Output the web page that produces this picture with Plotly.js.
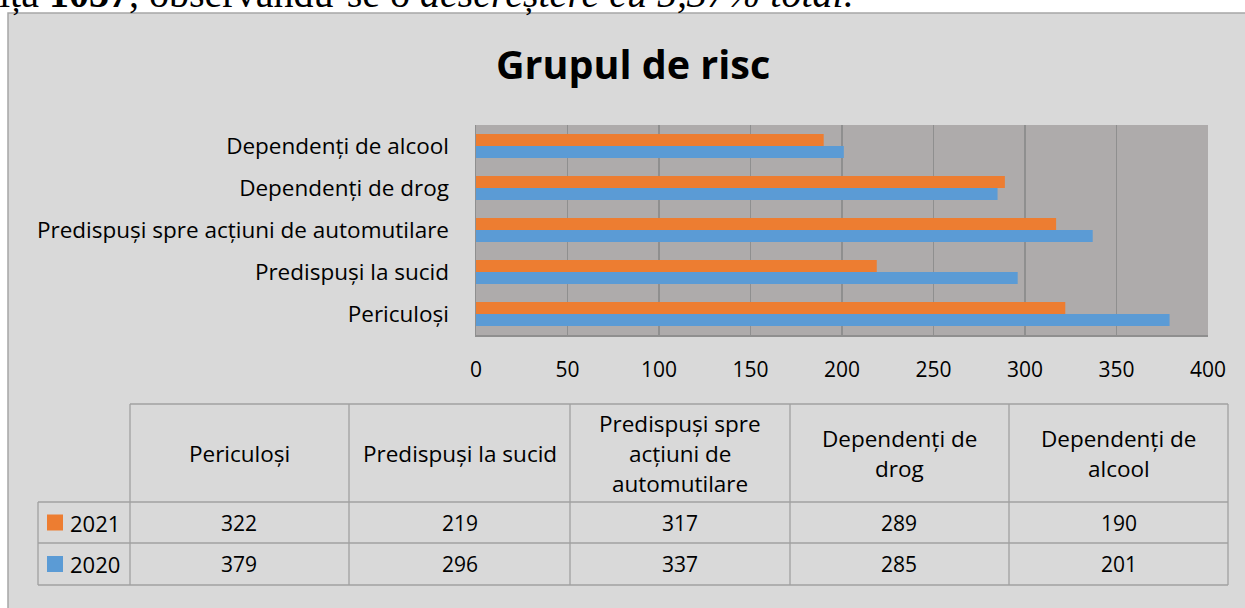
<!DOCTYPE html>
<html>
<head>
<meta charset="utf-8">
<script src="https://cdn.plot.ly/plotly-3.0.1.min.js"></script>
<style>html,body{margin:0;padding:0;background:#fff;}#chart{width:1245px;height:608px;}</style>
</head>
<body>
<div id="chart"></div>
<script>
// ---- data ----
const categories = ["Periculoși", "Predispuși la sucid", "Predispuși spre acțiuni de automutilare", "Dependenți de drog", "Dependenți de alcool"];
const tableHeaderLabels = ["Periculoși", "Predispuși la sucid", "Predispuși spre<br>acțiuni de<br>automutilare", "Dependenți de<br>drog", "Dependenți de<br>alcool"];
const seriesNames = ["2021", "2020"];
const values2021 = [322, 219, 317, 289, 190];
const values2020 = [379, 296, 337, 285, 201];
const xTicks = [0, 50, 100, 150, 200, 250, 300, 350, 400];
const chartTitle = "Grupul de risc";
const topText = "ița <b>1037</b>, observându-se o <i>descreștere cu 5,37% total.</i>";

// ---- layout helpers ----
const W = 1245, H = 608;
const px = x => x / W;
const py = y => 1 - y / H;
const ORANGE = "#ed7d31", BLUE = "#5b9bd5";
const FONT = "'Open Sans', Lato, sans-serif";
const TXT = "#000000";
const FS = 22.5;   // word labels
const NFS = 21;    // numbers

const traces = [
  {type: "bar", orientation: "h", name: seriesNames[1], x: values2020, y: categories,
   marker: {color: BLUE, line: {width: 0}}, hoverinfo: "none", showlegend: false},
  {type: "bar", orientation: "h", name: seriesNames[0], x: values2021, y: categories,
   marker: {color: ORANGE, line: {width: 0}}, hoverinfo: "none", showlegend: false}
];

const shapes = [];
const annotations = [];

// chart frame
shapes.push({type: "rect", xref: "paper", yref: "paper", x0: px(8), x1: 1.02, y0: -0.02, y1: py(13),
  fillcolor: "#d9d9d9", line: {color: "#a6a6a6", width: 1.5}, layer: "below"});
// plot area
shapes.push({type: "rect", xref: "x domain", yref: "y domain", x0: 0, x1: 1, y0: 0, y1: 1,
  fillcolor: "#aeabab", line: {width: 0}, layer: "below"});

// top document text
annotations.push({xref: "paper", yref: "paper", x: px(-3), y: py(17.5), xanchor: "left", yanchor: "bottom",
  text: topText, showarrow: false, font: {family: "'Liberation Serif', 'Times New Roman', serif", size: 40, color: TXT}});

// title
annotations.push({xref: "paper", yref: "paper", x: px(633), y: py(64), xanchor: "center", yanchor: "middle",
  text: "<b>" + chartTitle + "</b>", showarrow: false, font: {family: FONT, size: 39.5, color: TXT}});

// data table
const colEdges = [130, 349, 570, 790, 1009, 1228];
const legendLeft = 38;
const yHeadTop = 404, yHeadBot = 502, yRow1Bot = 543, yRow2Bot = 585;
const LC = "#a0a0a0", LW = 1.3;
function hline(y, x0, x1) { shapes.push({type: "line", xref: "paper", yref: "paper", x0: px(x0), x1: px(x1), y0: py(y), y1: py(y), line: {color: LC, width: LW}}); }
function vline(x, y0, y1) { shapes.push({type: "line", xref: "paper", yref: "paper", x0: px(x), x1: px(x), y0: py(y0), y1: py(y1), line: {color: LC, width: LW}}); }
hline(yHeadTop, colEdges[0], colEdges[colEdges.length - 1]);
hline(yHeadBot, legendLeft, colEdges[colEdges.length - 1]);
hline(yRow1Bot, legendLeft, colEdges[colEdges.length - 1]);
hline(yRow2Bot, legendLeft, colEdges[colEdges.length - 1]);
vline(legendLeft, yHeadBot, yRow2Bot);
colEdges.forEach(x => vline(x, yHeadTop, yRow2Bot));

const LINE_GAP = 30;
const headMid = (yHeadTop + yHeadBot) / 2;
const row1Mid = (yHeadBot + yRow1Bot) / 2, row2Mid = (yRow1Bot + yRow2Bot) / 2;
tableHeaderLabels.forEach((lab, i) => {
  const cx = (colEdges[i] + colEdges[i + 1]) / 2;
  const lines = lab.split("<br>");
  lines.forEach((ln, j) => {
    const cy = headMid + (j - (lines.length - 1) / 2) * LINE_GAP;
    annotations.push({xref: "paper", yref: "paper", x: px(cx), y: py(cy), xanchor: "center", yanchor: "middle",
      text: ln, showarrow: false, font: {family: FONT, size: FS, color: TXT}});
  });
  annotations.push({xref: "paper", yref: "paper", x: px(cx), y: py(row1Mid), xanchor: "center", yanchor: "middle",
    text: String(values2021[i]), showarrow: false, font: {family: FONT, size: NFS, color: TXT}});
  annotations.push({xref: "paper", yref: "paper", x: px(cx), y: py(row2Mid), xanchor: "center", yanchor: "middle",
    text: String(values2020[i]), showarrow: false, font: {family: FONT, size: NFS, color: TXT}});
});
// legend keys in table
[[seriesNames[0], ORANGE, row1Mid], [seriesNames[1], BLUE, row2Mid]].forEach(([nm, col, cy]) => {
  shapes.push({type: "rect", xref: "paper", yref: "paper", x0: px(47), x1: px(63), y0: py(cy + 8), y1: py(cy - 8),
    fillcolor: col, line: {width: 0}});
  annotations.push({xref: "paper", yref: "paper", x: px(68), y: py(cy), xanchor: "left", yanchor: "middle",
    text: nm, showarrow: false, font: {family: FONT, size: NFS + 1, color: TXT}});
});

const layout = {
  width: W, height: H,
  margin: {l: 0, r: 0, t: 0, b: 0, pad: 0},
  paper_bgcolor: "#ffffff",
  plot_bgcolor: "rgba(0,0,0,0)",
  showlegend: false,
  barmode: "group",
  bargap: 0.4286,
  bargroupgap: 0,
  xaxis: {
    domain: [px(476), px(1208)], range: [0, 400], tickmode: "array", tickvals: xTicks, ticktext: xTicks.map(String),
    showgrid: true, gridcolor: "#8f8f8f", gridwidth: 1.5, zeroline: false,
    showline: true, linecolor: "#8f8f8f", linewidth: 1.5, ticks: "", ticklabelstandoff: 15,
    tickfont: {family: FONT, size: NFS, color: TXT}, fixedrange: true
  },
  yaxis: {
    domain: [py(335), py(125)], type: "category", categoryorder: "array", categoryarray: categories,
    showgrid: false, zeroline: false, showline: true, linecolor: "#8f8f8f", linewidth: 1.5,
    ticks: "", ticklabelstandoff: 21, tickfont: {family: FONT, size: FS, color: TXT}, fixedrange: true
  },
  shapes: shapes,
  annotations: annotations
};

Plotly.newPlot("chart", traces, layout, {displayModeBar: false, staticPlot: true});
</script>
</body>
</html>
